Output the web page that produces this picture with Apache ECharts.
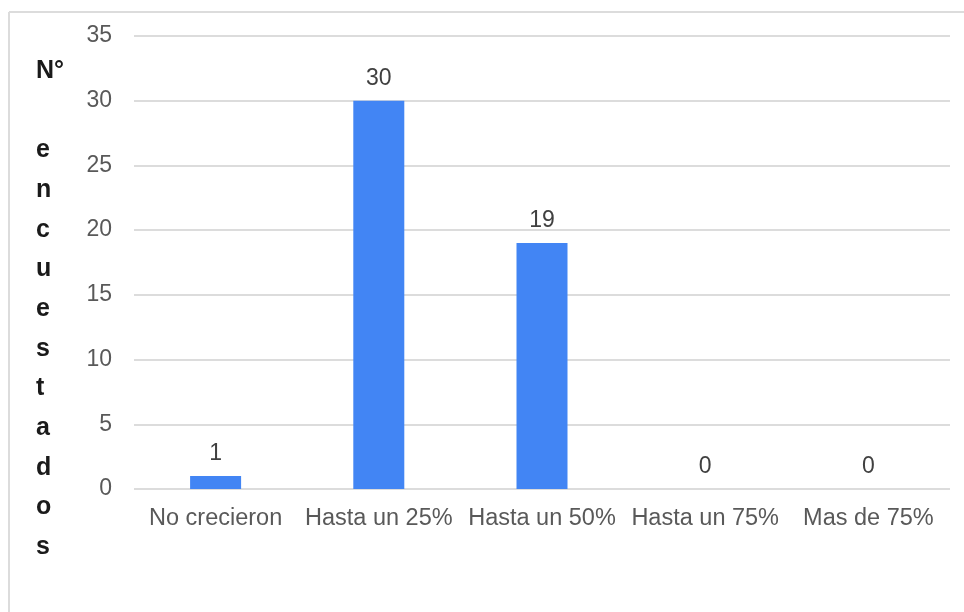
<!DOCTYPE html>
<html>
<head>
<meta charset="utf-8">
<script src="https://cdn.jsdelivr.net/npm/echarts@6/dist/echarts.min.js"></script>
<style>
  html, body { margin: 0; padding: 0; background: #ffffff; }
  #chart { width: 964px; height: 612px; }
</style>
</head>
<body>
<div id="chart"></div>
<script>
// Growth ranges and number of respondents in each
const categories = ['No crecieron', 'Hasta un 25%', 'Hasta un 50%', 'Hasta un 75%', 'Mas de 75%'];
const respondents = [1, 30, 19, 0, 0];
const yTicks = { min: 0, max: 35, interval: 5 };
const yTitleLines = ['N°', '', 'e', 'n', 'c', 'u', 'e', 's', 't', 'a', 'd', 'o', 's'];

const chart = echarts.init(document.getElementById('chart'), null, { renderer: 'canvas' });

const textFont = 'Liberation Sans, Arial, sans-serif';

chart.setOption({
  animation: false,
  backgroundColor: '#ffffff',
  grid: { left: 134, right: 14, top: 36, bottom: 123 },
  xAxis: {
    type: 'category',
    data: categories,
    axisLine: { show: false },
    axisTick: { show: false },
    axisLabel: { color: '#595959', fontSize: 23.5, fontFamily: textFont, margin: 18, interval: 0 }
  },
  yAxis: {
    type: 'value',
    min: yTicks.min,
    max: yTicks.max,
    interval: yTicks.interval,
    axisLine: { show: false },
    axisTick: { show: false },
    axisLabel: { color: '#595959', fontSize: 23, fontFamily: textFont, margin: 22 },
    splitLine: { lineStyle: { color: '#dcdcdc', width: 2 } }
  },
  series: [{
    type: 'bar',
    data: respondents,
    barWidth: 51,
    itemStyle: { color: '#4285f4' },
    label: {
      show: true,
      position: 'top',
      distance: 11,
      color: '#404040',
      fontSize: 23,
      fontFamily: textFont
    }
  }],
  graphic: [
    // outer frame: top and left edges
    { type: 'line', silent: true, shape: { x1: 9, y1: 12, x2: 964, y2: 12 }, style: { stroke: '#dcdcdc', lineWidth: 2 } },
    { type: 'line', silent: true, shape: { x1: 9, y1: 12, x2: 9, y2: 612 }, style: { stroke: '#dcdcdc', lineWidth: 2 } },
    // vertical axis title, one letter per line
    {
      type: 'text',
      left: 36,
      top: 51,
      silent: true,
      style: {
        text: yTitleLines.join('\n'),
        fill: '#1a1a1a',
        font: 'bold 25px ' + textFont,
        lineHeight: 39.7,
        textAlign: 'left'
      }
    }
  ]
});
</script>
</body>
</html>
